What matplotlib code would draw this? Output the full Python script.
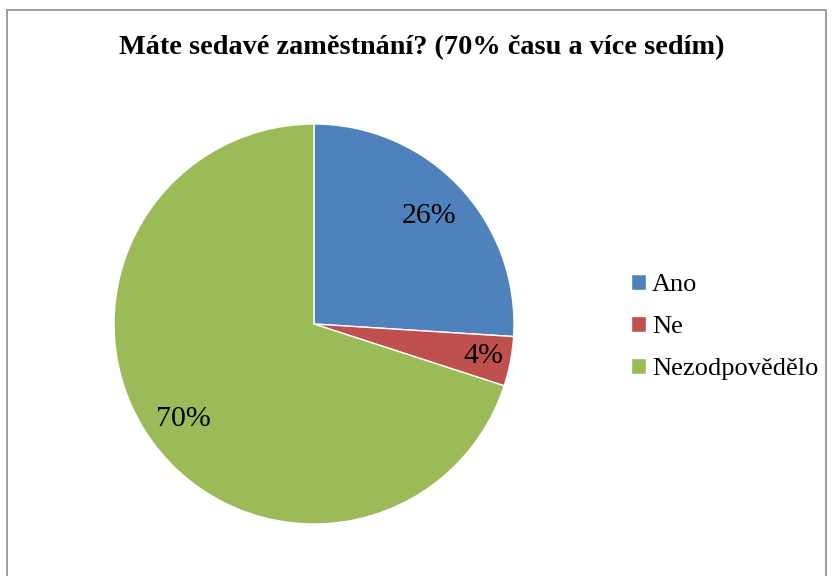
import numpy as np
import matplotlib.pyplot as plt
from matplotlib.patches import Rectangle

labels = ["Ano", "Ne", "Nezodpovědělo"]
values = [26, 4, 70]
colors = ["#4F81BD", "#C0504D", "#9BBB59"]
pct_labels = ["26%", "4%", "70%"]

plt.rcParams['font.family'] = ['Liberation Serif', 'DejaVu Serif']

fig = plt.figure(figsize=(8.32, 5.76), dpi=100)

# outer frame of the chart area
fig.patches.append(Rectangle((7 / 832, -0.1), 819 / 832, 1.1 - 10 / 576,
                             transform=fig.transFigure, fill=False,
                             edgecolor="#8c8c8c", linewidth=1.2))

fig.text(422 / 832, 1 - 48 / 576, "Máte sedavé zaměstnání? (70% času a více sedím)",
         ha="center", va="center", fontsize=20.3, fontweight="bold")

ax = fig.add_axes([114 / 832, 52 / 576, 400 / 832, 400 / 576])
wedges, _ = ax.pie(values, colors=colors, startangle=90, counterclock=False,
                   radius=1, wedgeprops=dict(edgecolor="white", linewidth=1))
ax.set_xlim(-1, 1)
ax.set_ylim(-1, 1)
ax.set_aspect("equal")

dists = [0.79, 0.86, 0.81]
for w, txt, d in zip(wedges, pct_labels, dists):
    ang = np.deg2rad((w.theta1 + w.theta2) / 2)
    ax.text(d * np.cos(ang), d * np.sin(ang), txt, ha="center", va="center",
            fontsize=21.5)

leg = fig.legend(wedges, labels, loc="center left",
                 bbox_to_anchor=(631 / 832, 1 - 327 / 576), frameon=False,
                 fontsize=19, handlelength=0.55, handleheight=0.55,
                 handletextpad=0.25, labelspacing=0.75, borderpad=0,
                 borderaxespad=0)

fig.savefig("out.png", dpi=100)
